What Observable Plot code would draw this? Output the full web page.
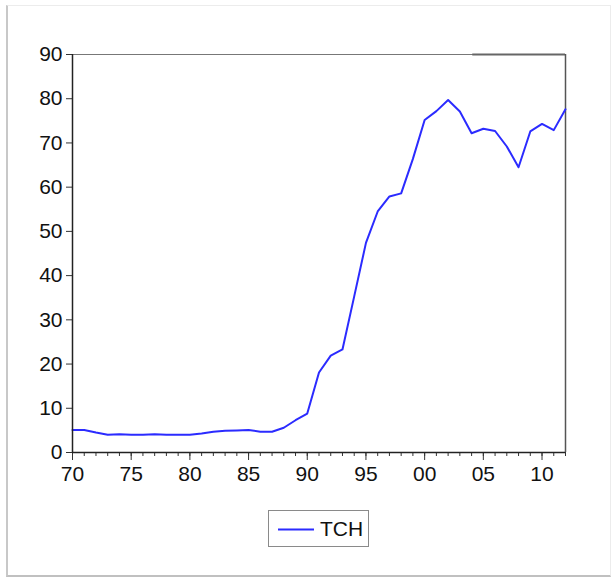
<!DOCTYPE html>
<html>
<head>
<meta charset="utf-8">
<script src="https://cdn.jsdelivr.net/npm/d3@7"></script>
<script src="https://cdn.jsdelivr.net/npm/@observablehq/plot@0.6"></script>
<style>
  html, body { margin: 0; padding: 0; background: #fff; }
  #wrap { position: relative; width: 616px; height: 581px; overflow: hidden; font-family: "Liberation Sans", Arial, sans-serif; }
  #frame { position: absolute; left: 6px; top: 5px; width: 605px; height: 572px;
           border-left: 2px solid #c8c8c8; border-bottom: 2px solid #c0c0c0;
           border-top: 1px solid #ececec; border-right: 1px solid #ececec; box-sizing: border-box; }
  #chart { position: absolute; left: 0; top: 0; }
  #legend { position: absolute; left: 268px; top: 510px; width: 101px; height: 37px; box-sizing: border-box;
            border: 1px solid #8a8a8a; background: #fff; }
  #legend svg { position: absolute; left: 0; top: 0; }
  #legend span { position: absolute; left: 51px; top: 7px; font-size: 21px; color: #111; line-height: 22px; }
</style>
</head>
<body>
<div id="wrap">
  <div id="frame"></div>
  <div id="chart"></div>
  <div id="legend"><svg width="50" height="37"><line x1="9" x2="45" y1="18.5" y2="18.5" stroke="#2b2bff" stroke-width="2"/></svg><span>TCH</span></div>
</div>
<script>
const years = d3.range(1970, 2013);
const tch = [5.1, 5.1, 4.5, 4.0, 4.1, 4.0, 4.0, 4.1, 4.0, 4.0,
             4.0, 4.3, 4.7, 4.9, 5.0, 5.1, 4.7, 4.7, 5.6, 7.3,
             8.8, 18.1, 21.9, 23.3, 35.3, 47.4, 54.5, 57.9, 58.6, 66.4,
             75.2, 77.2, 79.7, 77.1, 72.2, 73.2, 72.7, 69.2, 64.5, 72.6,
             74.3, 72.9, 77.6];
const yTicks = [0, 10, 20, 30, 40, 50, 60, 70, 80, 90];
const xMajor = [1970, 1975, 1980, 1985, 1990, 1995, 2000, 2005, 2010];
const xMajorLabels = ["70", "75", "80", "85", "90", "95", "00", "05", "10"];
const xMinor = d3.range(1970, 2013);
const series = years.map((y, i) => ({year: y, value: tch[i]}));

const chart = Plot.plot({
  width: 616,
  height: 500,
  marginLeft: 72,
  marginRight: 51,
  marginTop: 54,
  marginBottom: 48,
  style: {fontFamily: "'Liberation Sans', Arial, sans-serif", fontSize: "21px", color: "#111", background: "transparent"},
  x: {domain: [1970, 2012]},
  y: {domain: [0, 90]},
  marks: [
    Plot.ruleY([90], {stroke: "#777", strokeWidth: 1.2}),
    Plot.ruleY([90], {x1: 2004.1, x2: 2012, stroke: "#666", strokeWidth: 2}),
    Plot.ruleX([2012], {stroke: "#555", strokeWidth: 1.5}),
    Plot.lineY(series, {x: "year", y: "value", stroke: "#2b2bff", strokeWidth: 2}),
    Plot.axisX({ticks: xMinor, tickSize: 4, tickFormat: () => "", stroke: "#333", label: null}),
    Plot.axisX({ticks: xMajor, tickSize: 8, tickPadding: 6, tickFormat: (d) => xMajorLabels[xMajor.indexOf(d)], stroke: "#333", fill: "#111", label: null, fontSize: 21}),
    Plot.axisY({ticks: yTicks, tickSize: 6, tickPadding: 4, stroke: "#333", fill: "#111", label: null, fontSize: 21}),
    Plot.ruleX([1970], {stroke: "#222", strokeWidth: 1.5}),
    Plot.ruleY([0], {stroke: "#222", strokeWidth: 1.5})
  ]
});
document.getElementById("chart").appendChild(chart);
</script>
</body>
</html>
